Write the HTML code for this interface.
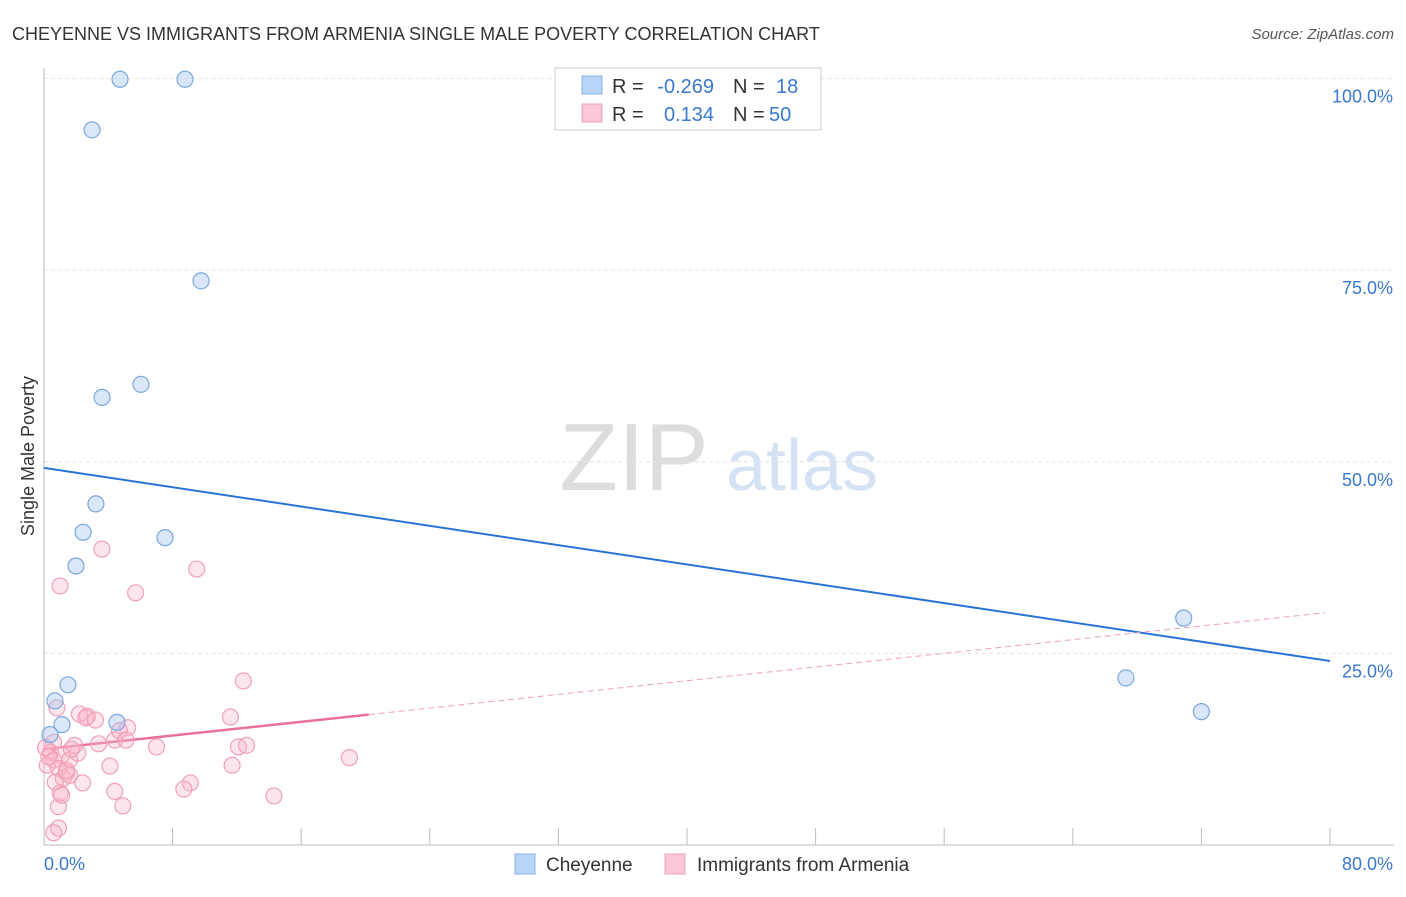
<!DOCTYPE html>
<html><head><meta charset="utf-8"><style>
body{margin:0;background:#fff;font-family:"Liberation Sans",sans-serif;}
svg text{font-family:"Liberation Sans",sans-serif;}
</style></head><body>
<svg id="chart" width="1406" height="892" xmlns="http://www.w3.org/2000/svg">
<text x="12" y="40" font-size="18" fill="#333">CHEYENNE VS IMMIGRANTS FROM ARMENIA SINGLE MALE POVERTY CORRELATION CHART</text>
<text x="1394" y="39" font-size="15" fill="#555" font-style="italic" text-anchor="end">Source: ZipAtlas.com</text>
<text x="34" y="456" font-size="18" fill="#333" text-anchor="middle" transform="rotate(-90 34 456)">Single Male Poverty</text>
<g><text x="634" y="490" font-size="96" fill="#ddd" font-family="Liberation Serif" text-anchor="middle">ZIP</text><text x="802" y="490" font-size="72" fill="#d4e2f4" text-anchor="middle">atlas</text></g>
<g id="grid"></g><g id="axes"></g><g id="lines"></g><g id="pts"></g>
<g>
<rect x="555" y="68" width="266" height="62" fill="#fff" stroke="#ccc"/>
<rect x="582" y="76" width="20" height="18" fill="#b8d4f6" stroke="#8ab4e8"/>
<rect x="582" y="104" width="20" height="18" fill="#fcc8d8" stroke="#f0a0b8"/>
<text x="612" y="93" font-size="20" fill="#333">R =</text>
<text x="714" y="93" font-size="20" fill="#3a78d0" text-anchor="end">-0.269</text>
<text x="733" y="93" font-size="20" fill="#333">N =</text>
<text x="776" y="93" font-size="20" fill="#3a78d0">18</text>
<text x="612" y="121" font-size="20" fill="#333">R =</text>
<text x="714" y="121" font-size="20" fill="#3a78d0" text-anchor="end">0.134</text>
<text x="733" y="121" font-size="20" fill="#333">N =</text>
<text x="769" y="121" font-size="20" fill="#3a78d0">50</text>
</g>
<g>
<rect x="515" y="854" width="20" height="20" fill="#b8d4f6" stroke="#8ab4e8"/>
<text x="546" y="871" font-size="19" fill="#333">Cheyenne</text>
<rect x="665" y="854" width="20" height="20" fill="#fcc8d8" stroke="#f0a0b8"/>
<text x="697" y="871" font-size="19" fill="#333">Immigrants from Armenia</text>
</g>
</svg>
<script>
const xTickLabels=["0.0%","80.0%"];
const yTicks=[25,50,75,100];
const blueX=[4.73,8.77,2.99,9.77,3.61,6.03,3.23,2.43,7.53,1.99,1.49,0.68,1.12,4.54,0.37,70.9,67.3,72.0];
const blueY=[99.9,99.9,93.3,73.6,58.4,60.1,44.5,40.8,40.1,36.4,20.9,18.8,15.7,16.0,14.4,29.6,21.8,17.4];
const pinkX=[1.0,3.6,5.7,9.5,12.4,11.6,0.8,2.2,2.7,2.6,5.2,4.4,3.4,1.9,0.6,0.4,1.1,1.6,2.1,0.6,0.2,0.9,1.4,1.2,1.6,2.4,0.7,4.1,7.0,12.1,12.6,11.7,19.0,9.1,8.7,4.4,4.9,14.3,0.9,1.0,0.9,0.6,0.3,0.1,1.7,1.4,4.7,3.2,5.1,1.1];
const pinkY=[33.8,38.6,32.9,36.0,21.4,16.7,17.9,17.1,16.8,16.6,15.3,13.7,13.2,13.0,13.4,12.1,11.7,11.1,12.0,11.1,10.4,10.0,9.4,8.7,9.1,8.1,8.2,10.3,12.8,12.8,13.0,10.4,11.4,8.1,7.3,7.0,5.1,6.4,5.0,6.8,2.2,1.6,11.5,12.7,12.5,9.7,14.9,16.3,13.7,6.5];
const blueTrend=[49.2,24.0];
const pinkTrend=[12.5,30.3];
const pinkSolidEnd=20.2;
const NS="http://www.w3.org/2000/svg";
const X=v=>44+v/80*1286, Y=v=>845-v*7.665;
function mk(p,t,a){const e=document.createElementNS(NS,t);for(const k in a)e.setAttribute(k,a[k]);document.getElementById(p).appendChild(e);return e;}
yTicks.forEach(t=>{const l=mk('grid','line',{x1:44,x2:1394,y1:Y(t),y2:Y(t),stroke:'#e4e4e4','stroke-dasharray':'4,3'});


const tx=mk('grid','text',{x:1393,y:Y(t)+24,'font-size':18,fill:'#3a78d0','text-anchor':'end'});tx.textContent=t.toFixed(1)+'%';

});
let ax=mk('axes','line',{x1:44,x2:44,y1:68,y2:845,stroke:'#bbb'});


ax=mk('axes','line',{x1:44,x2:1394,y1:845,y2:845,stroke:'#bbb'});


for(let i=1;i<=10;i++){const t=mk('axes','line',{x1:X(i*8),x2:X(i*8),y1:828,y2:845,stroke:'#bbb'});

}
let xl=mk('axes','text',{x:44,y:870,'font-size':18,fill:'#3a78d0'});xl.textContent=xTickLabels[0];


xl=mk('axes','text',{x:1393,y:870,'font-size':18,fill:'#3a78d0','text-anchor':'end'});xl.textContent=xTickLabels[1];


let ln=mk('lines','line',{x1:X(0),y1:Y(blueTrend[0]),x2:X(80),y2:Y(blueTrend[1]),stroke:'#2a72d8','stroke-width':2});


const py=v=>pinkTrend[0]+(pinkTrend[1]-pinkTrend[0])*v/79.7;
ln=mk('lines','line',{x1:X(pinkSolidEnd),y1:Y(py(pinkSolidEnd)),x2:X(79.7),y2:Y(pinkTrend[1]),stroke:'#f0a0b8','stroke-width':1,'stroke-dasharray':'6,4'});


ln=mk('lines','line',{x1:X(0),y1:Y(pinkTrend[0]),x2:X(pinkSolidEnd),y2:Y(py(pinkSolidEnd)),stroke:'#e8709a','stroke-width':2.5});


pinkX.forEach((v,i)=>{const c=mk('pts','circle',{cx:X(v),cy:Y(pinkY[i]),r:8,fill:'rgba(248,180,200,0.35)',stroke:'#f0a0b8','stroke-width':1.2});

});
blueX.forEach((v,i)=>{const c=mk('pts','circle',{cx:X(v),cy:Y(blueY[i]),r:8,fill:'rgba(160,196,240,0.4)',stroke:'#7aa8e0','stroke-width':1.2});

});
</script>
</body></html>
